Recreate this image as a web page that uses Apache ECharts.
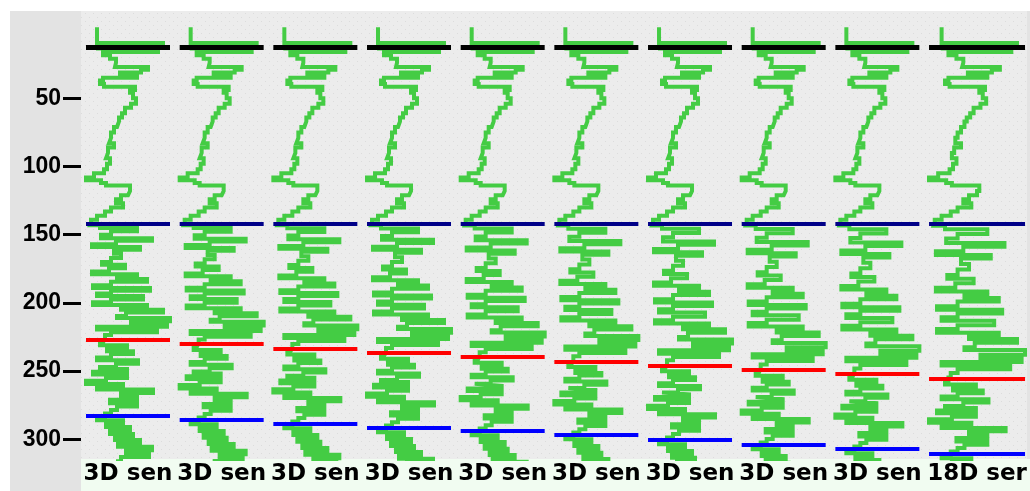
<!DOCTYPE html>
<html><head><meta charset="utf-8">
<script src="https://cdn.jsdelivr.net/npm/echarts@6/dist/echarts.min.js"></script>
<style>html,body{margin:0;padding:0;background:#fff}#chart{width:1030px;height:491px}</style>
</head><body><div id="chart"></div>
<script>
// ---- data ----
const trackLabels = ['3D sen','3D sen','3D sen','3D sen','3D sen','3D sen','3D sen','3D sen','3D sen','18D ser'];
const yTicks = [50, 100, 150, 200, 250, 300];
const blackDepth = 12.5;
const navyDepth = 142;
const redDepths = [226.7, 230.2, 233.5, 236.7, 239.8, 242.9, 246.0, 249.2, 252.2, 255.6];
const blueDepths = [283.0, 285.9, 288.8, 291.8, 293.9, 296.9, 300.5, 304.2, 307.1, 310.8];
// log of the first track: top depth of each step and its amplitude
const logDepth = [-2, 9.5, 11, 13.5, 16, 18.5, 21, 24, 27, 29, 31, 33.5, 35, 37, 39.5, 41.5, 44, 46, 50, 54, 57, 61, 64, 67, 71, 75, 79, 83, 86, 90, 94, 98, 102, 105, 108, 110, 112, 114, 118, 121, 124, 127, 130, 133, 136, 139,
  141, 143, 145, 147.5, 150, 152.5, 154.5, 157, 159, 161, 164, 167, 170, 172, 174.5, 177, 179, 181, 182.5, 184.5, 187, 189, 191, 193, 195, 197.5, 199.5, 201.5, 203.5, 205, 207, 209.5, 211, 213.5, 215.5, 217.5, 219.5, 221.5, 223.5, 226,
  229, 231, 233, 235.5, 237.5, 240, 242, 244.5, 247, 248.5, 250.5, 252.5, 255, 257, 259.5, 261.5, 263.5, 266, 268.5, 271, 273.5, 276, 278.5, 281,
  284, 286, 288.5, 291, 293.5, 296, 298.5, 300.5, 303, 305.5, 308, 310.5, 313, 316];
const logValue = [11, 77, 12, 72, 17, 24, 30, 29, 62, 55, 34, 51, 17, 14, 18, 49, 44, 47, 50, 45, 39, 36, 33, 31, 28, 25, 23, 28, 22, 20, 24, 21, 18, 8, 0, 15, 20, 44, 42, 35, 30, 37, 25, 19, 11, 5,
  4, 14, 51, 25, 15, 66, 30, 6, 54, 28, 35, 25, 16, 39, 23, 6, 51, 31, 61, 25, 7, 64, 25, 11, 57, 25, 7, 61, 35, 77, 40, 31, 84, 45, 81, 11, 71, 25, 19, 17,
  14, 41, 21, 47, 25, 11, 52, 30, 14, 41, 7, 41, 20, 0, 37, 11, 67, 35, 51, 24, 51, 31, 25, 19,
  11, 37, 20, 44, 24, 47, 29, 54, 32, 66, 40, 63, 35, 30];

// ---- depth stretch of each track between its markers ----
function mapDepth(d, k) {
  const r0 = redDepths[0], b0 = blueDepths[0], r = redDepths[k], b = blueDepths[k];
  if (d <= navyDepth) return d;
  if (d <= r0) return navyDepth + (d - navyDepth) * (r - navyDepth) / (r0 - navyDepth);
  if (d <= b0) return r + (d - r0) * (b - r) / (b0 - r0);
  return b + (d - b0);
}

const Y_MIN = -14, Y_MAX = 314.4;
const pc = document.createElement('canvas');
pc.width = 8; pc.height = 8;
const g = pc.getContext('2d');
g.fillStyle = '#ececec'; g.fillRect(0, 0, 8, 8);
g.fillStyle = '#dcdcdc'; g.fillRect(1, 1, 1, 1); g.fillRect(5, 5, 1, 1);

const grids = [
  {left: 10, top: 11, right: 0, bottom: 0, show: true, backgroundColor: '#e3e3e3', borderWidth: 0},
  {left: 81, top: 11, width: 946, height: 448, show: true, backgroundColor: {image: pc, repeat: 'repeat'}, borderWidth: 0},
  {left: 81, top: 459, right: 0, bottom: 0, show: true, backgroundColor: '#f1fcf1', borderWidth: 0}
];
const xAxes = [
  {gridIndex: 0, type: 'value', show: false},
  {gridIndex: 1, type: 'value', show: false},
  {gridIndex: 2, type: 'value', show: false}
];
const yAxes = [
  {gridIndex: 0, type: 'value', show: false},
  {gridIndex: 1, type: 'value', inverse: true, min: Y_MIN, max: Y_MAX,
   axisLine: {show: false}, splitLine: {show: false},
   axisTick: {show: true, length: 18, customValues: yTicks, lineStyle: {color: '#000', width: 3}},
   axisLabel: {customValues: yTicks, margin: 20, color: '#000', fontFamily: 'Liberation Sans', fontWeight: 'bold', fontSize: 23}},
  {gridIndex: 2, type: 'value', show: false}
];
const series = [];
const lineCol = '#44cc44';
for (let k = 0; k < 10; k++) {
  const gi = grids.length;
  grids.push({left: 86 + 93.67 * k, top: 11, width: k < 9 ? 84 : 96, height: 448});
  const xv = xAxes.length;
  xAxes.push({gridIndex: gi, type: 'value', min: 0, max: 84, show: false});
  xAxes.push({gridIndex: gi, type: 'category', data: [trackLabels[k]], position: 'bottom',
    axisLine: {show: false}, axisTick: {show: false}, splitLine: {show: false},
    axisLabel: {interval: 0, margin: 15, verticalAlign: 'middle', color: '#000', fontFamily: 'DejaVu Sans', fontWeight: 'bold', fontSize: 23}});
  const yi = yAxes.length;
  yAxes.push({gridIndex: gi, type: 'value', inverse: true, min: Y_MIN, max: Y_MAX, show: false});
  series.push({
    type: 'line', xAxisIndex: xv, yAxisIndex: yi, step: 'start', symbol: 'none', showSymbol: false,
    lineStyle: {color: lineCol, width: 4, join: 'miter', cap: 'butt'}, animation: false,
    data: logDepth.map((d, i) => [logValue[i], mapDepth(d, k)]),
    markLine: {silent: true, symbol: ['none', 'none'], label: {show: false}, animation: false,
      data: [
        {yAxis: blackDepth, lineStyle: {color: '#000000', width: 5, type: 'solid'}},
        {yAxis: navyDepth, lineStyle: {color: '#000088', width: 4, type: 'solid'}},
        {yAxis: redDepths[k], lineStyle: {color: '#ff0000', width: 4, type: 'solid'}},
        {yAxis: blueDepths[k], lineStyle: {color: '#0000ff', width: 4, type: 'solid'}}
      ]}
  });
}
const chart = echarts.init(document.getElementById('chart'), null, {renderer: 'canvas'});
chart.setOption({backgroundColor: '#ffffff', animation: false, grid: grids, xAxis: xAxes, yAxis: yAxes, series: series});
</script></body></html>
